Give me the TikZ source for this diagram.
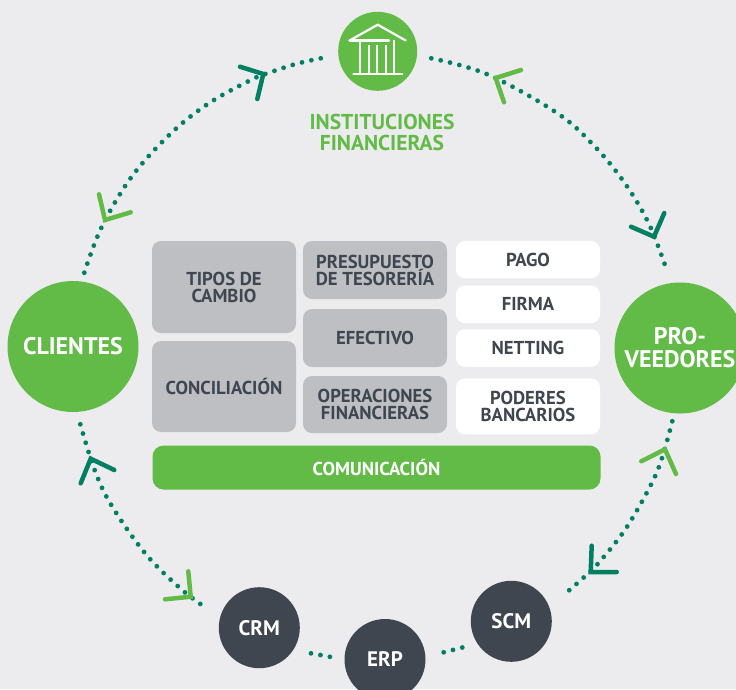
\documentclass[tikz,border=0pt]{standalone}
\usepackage{fontspec}
\setmainfont{PT Sans}
\definecolor{bgc}{HTML}{ECECEE}
\definecolor{lime}{HTML}{62BB46}
\definecolor{teal}{HTML}{007F63}
\definecolor{slate}{HTML}{3F4650}
\definecolor{graybox}{HTML}{BEBFC3}
\tikzset{
 x=1pt,y=-1pt,
 dotline/.style={draw=teal,line width=4.8pt,line cap=round,dash pattern=on 0pt off 9.6pt},
 chev/.style={line width=4.5pt,line cap=round,line join=miter},
 dkchev/.style={chev,draw=teal},
 ltchev/.style={chev,draw=lime},
 txt/.style={font=\bfseries\fontsize{18.7}{17}\selectfont,text=slate,align=center,inner sep=0pt},
 gbox/.style={fill=graybox,rounded corners=9pt},
 wbox/.style={fill=white,rounded corners=9pt},
 disc/.style={circle,inner sep=0pt,align=center,text=white,font=\bfseries\fontsize{24}{23}\selectfont},
 sdisc/.style={disc,fill=slate,minimum size=81pt,font=\bfseries\fontsize{21}{23}\selectfont},
}
\begin{document}
\begin{tikzpicture}
\useasboundingbox (0,0) rectangle (736,689);
\fill[bgc] (0,0) rectangle (736,689);
% dotted connectors
\draw[dotline] plot[smooth,tension=0.6] coordinates {(84.3,272.7) (101.7,227) (131.7,176.7) (171,133.3) (209.7,102.7) (252.3,79.3) (270.3,72.3) (298.3,63.3) (327.3,57)};
\draw[dotline] plot[smooth,tension=0.6] coordinates {(431.3,58.3) (487.3,74.3) (556,112.3) (592.7,144.3) (624,182) (649,224) (666.7,270)};
\draw[dotline] plot[smooth,tension=0.6] coordinates {(672.3,421.3) (661.7,459) (650.3,486) (626,528.3) (601.7,559.3) (588.3,573.3) (566,593)};
\draw[dotline] plot[smooth,tension=0.6] coordinates {(80.3,424.3) (95,471) (112.3,506.7) (146,554.3) (181,589) (205.5,607.5)};
\draw[dotline] (311,653.3) -- (330.5,656.9);
\draw[dotline] (443.7,652.3) -- (463,647.3);
% chevrons
\draw[dkchev] (240,66.7) -- (263.3,74) -- (257.3,99);
\draw[ltchev] (99,194.3) -- (105,220) -- (130.7,212.3);
\draw[ltchev] (521,70) -- (495.7,78) -- (504,102.3);
\draw[dkchev] (631,226.7) -- (654,236.7) -- (664.3,213);
\draw[ltchev] (641.3,461.3) -- (665,449.3) -- (676,474);
\draw[dkchev] (591.7,545.7) -- (590.7,572) -- (616.7,572);
\draw[dkchev] (80.7,483.3) -- (90.7,458.7) -- (114.3,470);
\draw[ltchev] (188.3,571.3) -- (190.7,596.7) -- (165,599.3);
% circles
\node[disc,fill=lime,minimum size=79pt] (ifin) at (377.7,51.3) {};
\node[disc,fill=lime,minimum size=131pt] (cli) at (73,346.5) {CLIENTES};
\node[disc,fill=lime,minimum size=131pt] (prov) at (680,348) {PRO-\\VEEDORES};
\node[sdisc] (crm) at (259.3,627.7) {CRM};
\node[sdisc] (erp) at (385,659.5) {ERP};
\node[sdisc] (scm) at (511.3,621.3) {SCM};
% bank icon
\draw[white,line width=2.2pt,line cap=round,line join=round] (349.5,40.5) -- (389,40.5);
\draw[white,line width=2.2pt,line cap=round,line join=round] (349.5,40.5) -- (377.7,24.7) -- (405.7,40.5);
\foreach \px in {360,394.3}{\draw[white,line width=2.2pt] (\px,40) -- (\px,74);}
\foreach \px in {368.7,377.3,386}{\draw[white,line width=1.8pt] (\px,45) -- (\px,74);}
\draw[white,line width=2.2pt,line cap=round] (353.5,73.8) -- (402.3,73.8);
\node[font=\bfseries\fontsize{21.5}{20.7}\selectfont,text=lime,align=center,inner sep=0pt] (ttl) at (382,132.5) {INSTITUCIONES\\FINANCIERAS};
% boxes
\node[gbox,minimum width=144pt,minimum height=92pt,inner sep=0pt] (b1) at (224,287) {};
\node[txt] at (b1) {TIPOS DE\\CAMBIO};
\node[gbox,minimum width=144pt,minimum height=91pt,inner sep=0pt] (b2) at (224,386.5) {};
\node[txt] at (b2) {CONCILIACIÓN};
\node[gbox,minimum width=144pt,minimum height=58pt,inner sep=0pt] (b3) at (375,270) {};
\node[txt] at (b3) {PRESUPUESTO\\DE TESORERÍA};
\node[gbox,minimum width=144pt,minimum height=58pt,inner sep=0pt] (b4) at (375,338) {};
\node[txt] at (b4) {EFECTIVO};
\node[gbox,minimum width=144pt,minimum height=57pt,inner sep=0pt] (b5) at (375,404.5) {};
\node[txt] at (b5) {OPERACIONES\\FINANCIERAS};
\node[wbox,minimum width=144pt,minimum height=37.5pt,inner sep=0pt] (w1) at (528,259.7) {};
\node[txt] at (w1) {PAGO};
\node[wbox,minimum width=144pt,minimum height=37.5pt,inner sep=0pt] (w2) at (528,304.3) {};
\node[txt] at (w2) {FIRMA};
\node[wbox,minimum width=144pt,minimum height=37.5pt,inner sep=0pt] (w3) at (528,348) {};
\node[txt] at (w3) {NETTING};
\node[wbox,minimum width=144pt,minimum height=56pt,inner sep=0pt] (w4) at (528,406.3) {};
\node[txt] at (w4) {PODERES\\BANCARIOS};
\node[fill=lime,rounded corners=11pt,minimum width=448pt,minimum height=44pt,inner sep=0pt] (com) at (376.5,467.5) {};
\node[txt,text=white] at (com) {COMUNICACIÓN};
\end{tikzpicture}
\end{document}
